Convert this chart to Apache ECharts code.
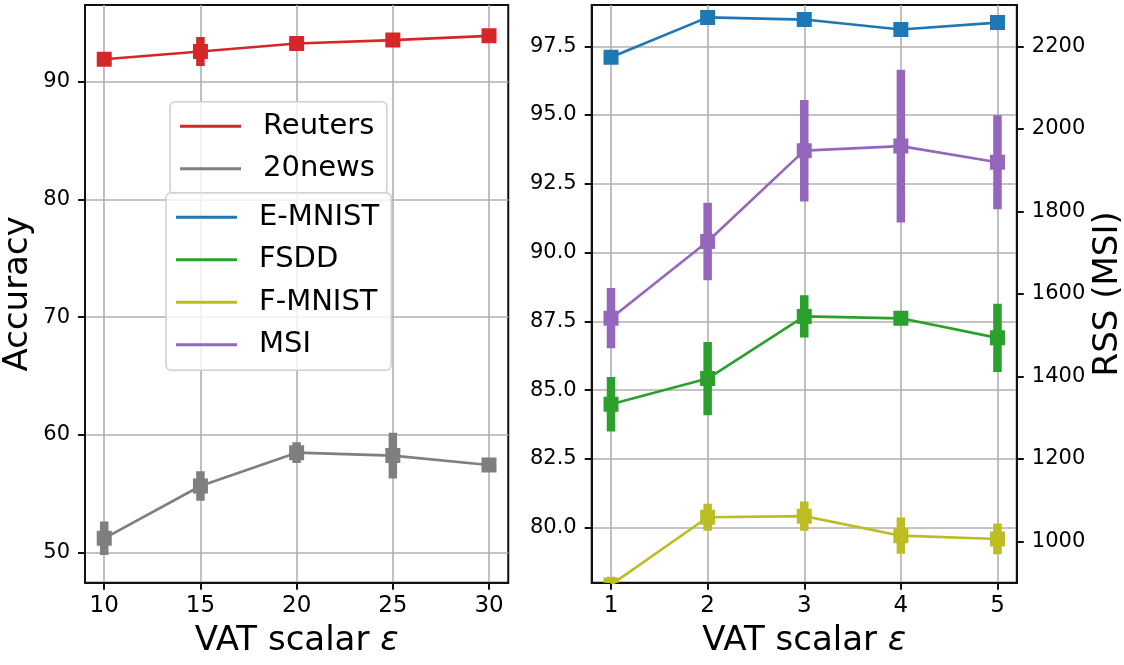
<!DOCTYPE html>
<html>
<head>
<meta charset="utf-8">
<style>
  html, body { margin: 0; padding: 0; background: #fff; }
  #chart { width: 1124px; height: 665px; }
</style>
<script src="https://cdn.jsdelivr.net/npm/echarts@6/dist/echarts.min.js"></script>
</head>
<body>
<div id="chart"></div>
<script>
// ---- data ----
const epsText = [10, 15, 20, 25, 30];
const reuters = [91.9, 92.55, 93.23, 93.52, 93.88];
const reutersErr = [0.3, 1.23, 0.3, 0.3, 0.3];
const news20 = [51.22, 55.66, 58.49, 58.24, 57.45];
const news20Err = [1.42, 1.26, 0.88, 1.95, 0.3];

const epsImg = [1, 2, 3, 4, 5];
const emnist = [97.1, 98.55, 98.47, 98.11, 98.36];
const emnistErr = [0.1, 0.1, 0.1, 0.1, 0.1];
const fsdd = [84.49, 85.42, 87.68, 87.61, 86.9];
const fsddErr = [0.99, 1.33, 0.77, 0.2, 1.24];
const fmnist = [77.92, 80.38, 80.42, 79.71, 79.59];
const fmnistErr = [0.3, 0.49, 0.53, 0.66, 0.56];
const msi = [1541, 1727, 1947, 1958, 1919];
const msiErr = [73, 94, 123, 185, 114];

const ticksTextX = [10, 15, 20, 25, 30];
const ticksTextY = [50, 60, 70, 80, 90];
const ticksImgX = [1, 2, 3, 4, 5];
const ticksImgY = [80, 82.5, 85, 87.5, 90, 92.5, 95, 97.5];
const ticksRss = [1000, 1200, 1400, 1600, 1800, 2000, 2200];

const COLORS = {
  Reuters: '#d62728', '20news': '#7f7f7f',
  'E-MNIST': '#1f77b4', FSDD: '#2ca02c', 'F-MNIST': '#bcbd22', MSI: '#9467bd'
};

const FONT = 'DejaVu Sans';
const AX = '#111';
const TITLE_SIZE = 34;

function pairs(xs, ys) { return xs.map((x, i) => [x, ys[i]]); }
function triples(xs, ys, es) { return xs.map((x, i) => [x, ys[i], es[i]]); }

function errRender(color) {
  return function (params, api) {
    const x = api.value(0), y = api.value(1), e = api.value(2);
    const top = api.coord([x, y + e]);
    const bot = api.coord([x, y - e]);
    const c = api.coord([x, y]);
    const bw = 8.5, ms = 15;
    return {
      type: 'group',
      children: [
        { type: 'rect', shape: { x: c[0] - bw / 2, y: top[1], width: bw, height: bot[1] - top[1] }, style: { fill: color } },
        { type: 'rect', shape: { x: c[0] - ms / 2, y: c[1] - ms / 2, width: ms, height: ms }, style: { fill: color } }
      ]
    };
  };
}

function makeSeries(name, xs, ys, es, xi, yi) {
  const color = COLORS[name];
  return [
    {
      name: name, type: 'line', xAxisIndex: xi, yAxisIndex: yi,
      data: pairs(xs, ys), symbol: 'none', showSymbol: false, clip: true,
      lineStyle: { color: color, width: 2.6 }, itemStyle: { color: color },
      emphasis: { disabled: true }, silent: true
    },
    {
      name: name + '-err', type: 'custom', xAxisIndex: xi, yAxisIndex: yi,
      data: triples(xs, ys, es), clip: true,
      encode: { x: 0, y: 1 },
      itemStyle: { color: color },
      renderItem: errRender(color), silent: true
    }
  ];
}

function valueAxisBase(extra) {
  return Object.assign({
    type: 'value',
    axisLine: { show: true, onZero: false, lineStyle: { color: AX, width: 2 } },
    axisTick: { show: true, inside: false, length: 7, lineStyle: { color: AX, width: 2 } },
    splitLine: { show: true, lineStyle: { color: '#b0b0b0', width: 1.6 } },
    nameTextStyle: { fontFamily: FONT, fontSize: TITLE_SIZE, color: '#000',
      rich: { i: { fontFamily: FONT, fontSize: TITLE_SIZE, fontStyle: 'italic', color: '#000' } } }
  }, extra);
}

const legendCommon = {
  orient: 'vertical',
  icon: 'rect',
  itemWidth: 61,
  itemHeight: 3,
  itemGap: 13.5,
  padding: [10, 12, 11, 10],
  backgroundColor: 'rgba(255,255,255,0.8)',
  borderColor: '#d0d0d0',
  borderWidth: 1.5,
  borderRadius: 5,
  selectedMode: false,
  textStyle: { fontFamily: FONT, fontSize: 29, color: '#000', padding: [0, 0, 0, 17] }
};

const option = {
  animation: false,
  backgroundColor: '#fff',
  textStyle: { fontFamily: FONT },
  grid: [
    { left: 85, right: 1124 - 508.25, top: 5, bottom: 665 - 582.7, show: true,
      borderColor: AX, borderWidth: 2, backgroundColor: 'transparent', containLabel: false, outerBoundsMode: 'none' },
    { left: 591.7, right: 1124 - 1016.8, top: 5, bottom: 665 - 582.7, show: true,
      borderColor: AX, borderWidth: 2, backgroundColor: 'transparent', containLabel: false, outerBoundsMode: 'none' }
  ],
  legend: [
    Object.assign({}, legendCommon, { left: 170, top: 101.7, data: ['Reuters', '20news'] }),
    Object.assign({}, legendCommon, { left: 166, top: 192.7, data: ['E-MNIST', 'FSDD', 'F-MNIST', 'MSI'] })
  ],
  xAxis: [
    valueAxisBase({
      gridIndex: 0, min: 9, max: 31,
      name: 'VAT scalar {i|ε}', nameLocation: 'middle', nameGap: 41,
      axisTick: { show: true, inside: false, length: 7, lineStyle: { color: AX, width: 2 }, customValues: ticksTextX },
      axisLabel: { customValues: ticksTextX, fontFamily: FONT, fontSize: 23, color: '#000', margin: 12 }
    }),
    valueAxisBase({
      gridIndex: 1, min: 0.8, max: 5.2,
      name: 'VAT scalar {i|ε}', nameLocation: 'middle', nameGap: 41,
      axisTick: { show: true, inside: false, length: 7, lineStyle: { color: AX, width: 2 }, customValues: ticksImgX },
      axisLabel: { customValues: ticksImgX, fontFamily: FONT, fontSize: 23, color: '#000', margin: 12 }
    })
  ],
  yAxis: [
    valueAxisBase({
      gridIndex: 0, min: 47.45, max: 96.5,
      name: 'Accuracy', nameLocation: 'middle', nameGap: 50,
      axisTick: { show: true, inside: false, length: 7, lineStyle: { color: AX, width: 2 }, customValues: ticksTextY },
      axisLabel: { customValues: ticksTextY, fontFamily: FONT, fontSize: 21, color: '#000', margin: 15 }
    }),
    valueAxisBase({
      gridIndex: 1, min: 78, max: 99, position: 'left',
      axisTick: { show: true, inside: false, length: 7, lineStyle: { color: AX, width: 2 }, customValues: ticksImgY },
      axisLabel: { customValues: ticksImgY, fontFamily: FONT, fontSize: 21, color: '#000', margin: 15,
        formatter: v => Number(v).toFixed(1) }
    }),
    valueAxisBase({
      gridIndex: 1, min: 900, max: 2300, position: 'right',
      name: 'RSS (MSI)', nameLocation: 'middle', nameGap: 74,
      splitLine: { show: false },
      axisTick: { show: true, inside: false, length: 7, lineStyle: { color: AX, width: 2 }, customValues: ticksRss },
      axisLabel: { customValues: ticksRss, fontFamily: FONT, fontSize: 21, color: '#000', margin: 15,
        formatter: v => String(Math.round(v)) }
    })
  ],
  series: [].concat(
    makeSeries('Reuters', epsText, reuters, reutersErr, 0, 0),
    makeSeries('20news', epsText, news20, news20Err, 0, 0),
    makeSeries('E-MNIST', epsImg, emnist, emnistErr, 1, 1),
    makeSeries('FSDD', epsImg, fsdd, fsddErr, 1, 1),
    makeSeries('F-MNIST', epsImg, fmnist, fmnistErr, 1, 1),
    makeSeries('MSI', epsImg, msi, msiErr, 1, 2)
  )
};

const chart = echarts.init(document.getElementById('chart'), null, { renderer: 'canvas' });
chart.setOption(option);
</script>
</body>
</html>
